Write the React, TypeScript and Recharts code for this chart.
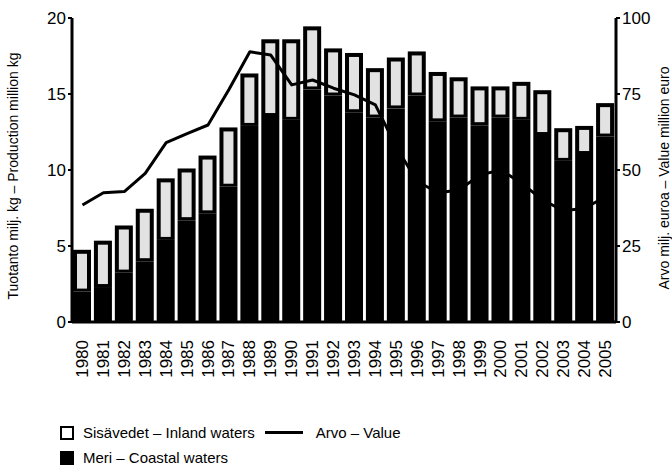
import { ComposedChart, Bar, Line, XAxis, YAxis } from 'recharts';

// Vuodet / years
const years = [
  '1980', '1981', '1982', '1983', '1984', '1985', '1986', '1987', '1988', '1989',
  '1990', '1991', '1992', '1993', '1994', '1995', '1996', '1997', '1998', '1999',
  '2000', '2001', '2002', '2003', '2004', '2005',
];

// Meri – Coastal waters, milj. kg
const coastal = [
  2.0, 2.3, 3.25, 4.0, 5.4, 6.7, 7.15, 8.9, 12.9, 13.55,
  13.3, 15.3, 14.9, 13.8, 13.45, 14.05, 14.9, 13.2, 13.45, 12.95,
  13.45, 13.3, 12.3, 10.6, 11.05, 12.2,
];

// Sisävedet – Inland waters, milj. kg
const inland = [
  2.75, 3.05, 3.1, 3.45, 4.05, 3.4, 3.8, 3.9, 3.45, 5.05,
  5.3, 4.15, 3.1, 3.9, 3.25, 3.35, 2.9, 3.25, 2.65, 2.55,
  2.05, 2.5, 2.95, 2.15, 1.85, 2.2,
];

// Arvo – Value, milj. euroa
const value = [
  38.5, 42.5, 42.9, 48.9, 59, 62, 64.8, 76.5, 88.9, 87.8,
  78, 79.6, 76.9, 74.7, 71.4, 57.5, 46.2, 42.5, 43.4, 48.4,
  50, 45.6, 40.1, 36.6, 37.4, 41.2,
];

const leftTicks = [0, 5, 10, 15, 20];
const rightTicks = [0, 25, 50, 75, 100];

const data = years.map((year, i) => ({
  year,
  coastal: coastal[i],
  inland: inland[i],
  value: value[i],
}));

const FONT = '"Liberation Sans", Arial, sans-serif';
const INK = '#000';
const INLAND_FILL = '#e2e2e2';

// sisävesiosuus: musta kehys, vaalea sisus
const InlandShape = (props: any) => {
  const { x, y, width, height } = props;
  if (!height || height <= 0) return null;
  const inset = 4;
  return (
    <g>
      <rect x={x} y={y} width={width} height={height} fill={INK} />
      <rect
        x={x + inset}
        y={y + inset}
        width={Math.max(0, width - inset * 2)}
        height={Math.max(0, height - inset - 3)}
        fill={INLAND_FILL}
      />
    </g>
  );
};

const YearTick = (props: any) => {
  const { x, y, payload } = props;
  return (
    <text
      x={0}
      y={0}
      transform={`translate(${x},${y + 10}) rotate(-90)`}
      textAnchor="end"
      dominantBaseline="central"
      fontFamily={FONT}
      fontSize={17}
      fill={INK}
    >
      {payload.value}
    </text>
  );
};

const AxisTitle = ({ posX, posY, text }: any) => (
  <text
    x={0}
    y={0}
    transform={`translate(${posX},${posY}) rotate(-90)`}
    textAnchor="middle"
    dominantBaseline="central"
    fontFamily={FONT}
    fontSize={14}
    fill={INK}
  >
    {text}
  </text>
);

const legendText = { fontFamily: FONT, fontSize: 15, color: INK, lineHeight: '15px' };

export default function App() {
  return (
    <div style={{ position: 'absolute', left: 0, top: 0, width: 672, height: 467, background: '#fff' }}>
      <ComposedChart
        width={672}
        height={400}
        data={data}
        margin={{ top: 18, right: 0, bottom: 0, left: 0 }}
        barGap={0}
      >
        <XAxis
          dataKey="year"
          interval={0}
          height={78}
          tickLine={false}
          axisLine={{ stroke: INK, strokeWidth: 3 }}
          tick={<YearTick />}
        />
        <YAxis
          yAxisId="left"
          width={72}
          domain={[0, 20]}
          ticks={leftTicks}
          tickSize={4}
          tickLine={{ stroke: INK, strokeWidth: 2 }}
          axisLine={{ stroke: INK, strokeWidth: 3 }}
          tick={{ fontFamily: FONT, fontSize: 17, fill: INK }}
          label={<AxisTitle posX={13} posY={176} text="Tuotanto milj. kg – Production million kg" />}
        />
        <YAxis
          yAxisId="right"
          orientation="right"
          width={56}
          domain={[0, 100]}
          ticks={rightTicks}
          tickSize={4}
          tickLine={{ stroke: INK, strokeWidth: 2 }}
          axisLine={{ stroke: INK, strokeWidth: 3 }}
          tick={{ fontFamily: FONT, fontSize: 17, fill: INK }}
          label={<AxisTitle posX={664} posY={178} text="Arvo milj. euroa – Value million euro" />}
        />
        <Bar yAxisId="left" dataKey="coastal" stackId="p" fill={INK} barSize={18} isAnimationActive={false} />
        <Bar yAxisId="left" dataKey="inland" stackId="p" barSize={18} shape={<InlandShape />} isAnimationActive={false} />
        <Line
          yAxisId="right"
          dataKey="value"
          type="linear"
          stroke={INK}
          strokeWidth={3}
          strokeLinejoin="round"
          dot={false}
          activeDot={false}
          isAnimationActive={false}
        />
      </ComposedChart>

      {/* selite */}
      <div style={{ position: 'absolute', left: 60, top: 425, display: 'flex', alignItems: 'center' }}>
        <span style={{ width: 10, height: 10, border: `2px solid ${INK}`, background: '#fff', display: 'inline-block' }} />
        <span style={{ ...legendText, marginLeft: 9 }}>Sisävedet – Inland waters</span>
        <span style={{ width: 38, height: 3, background: INK, display: 'inline-block', marginLeft: 10 }} />
        <span style={{ ...legendText, marginLeft: 13 }}>Arvo – Value</span>
      </div>
      <div style={{ position: 'absolute', left: 60, top: 450, display: 'flex', alignItems: 'center' }}>
        <span style={{ width: 14, height: 14, background: INK, display: 'inline-block' }} />
        <span style={{ ...legendText, marginLeft: 9 }}>Meri – Coastal waters</span>
      </div>
    </div>
  );
}
